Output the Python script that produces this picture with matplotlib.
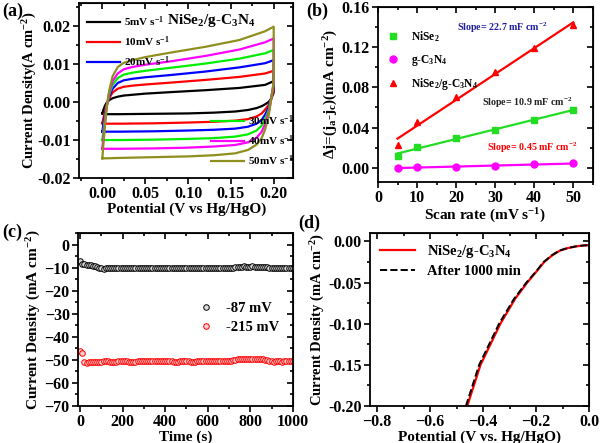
import matplotlib.pyplot as plt
import numpy as np
from matplotlib.ticker import AutoMinorLocator

plt.rcParams['font.family'] = 'Liberation Serif'
plt.rcParams['font.weight'] = 'bold'
plt.rcParams['axes.labelweight'] = 'bold'
plt.rcParams['mathtext.fontset'] = 'custom'
plt.rcParams['mathtext.rm'] = 'Liberation Serif:bold'
plt.rcParams['mathtext.it'] = 'Liberation Serif:bold'
plt.rcParams['mathtext.bf'] = 'Liberation Serif:bold'
plt.rcParams['mathtext.default'] = 'regular'

# ---- (a) CV curves ----
rates = ['5mV s$^{-1}$', '10mV s$^{-1}$', '20mV s$^{-1}$', '30mV s$^{-1}$', '40mV s$^{-1}$', '50mV s$^{-1}$']
cv_colors = ['black', 'red', 'blue', '#00ee00', '#ff00ff', '#8f8f1f']
v_up = [0.0, 0.001, 0.003, 0.005, 0.008, 0.012, 0.018, 0.025, 0.035, 0.05, 0.08, 0.12, 0.16, 0.19, 0.2]
v_down = [0.2, 0.2, 0.197, 0.194, 0.19, 0.186, 0.18, 0.17, 0.155, 0.13, 0.10, 0.06, 0.02, 0.005, 0.0]
j_up = [
    [-0.0030, -0.0022, -0.0010, -0.0002, 0.0005, 0.0010, 0.0014, 0.0017, 0.0019, 0.0022, 0.0026, 0.0031, 0.0037, 0.0045, 0.0055],
    [-0.0056, -0.0045, -0.0025, -0.0008, 0.0010, 0.0025, 0.0035, 0.0040, 0.0043, 0.0046, 0.0051, 0.0058, 0.0066, 0.0075, 0.0082],
    [-0.0078, -0.0062, -0.0035, -0.0010, 0.0015, 0.0035, 0.0050, 0.0057, 0.0061, 0.0065, 0.0071, 0.0080, 0.0091, 0.0102, 0.0110],
    [-0.0100, -0.0080, -0.0045, -0.0012, 0.0020, 0.0045, 0.0063, 0.0072, 0.0077, 0.0082, 0.0090, 0.0101, 0.0114, 0.0128, 0.0137],
    [-0.0123, -0.0098, -0.0055, -0.0014, 0.0025, 0.0055, 0.0075, 0.0086, 0.0092, 0.0098, 0.0107, 0.0121, 0.0138, 0.0157, 0.0167],
    [-0.0148, -0.0118, -0.0065, -0.0016, 0.0030, 0.0068, 0.0092, 0.0103, 0.0110, 0.0118, 0.0130, 0.0145, 0.0163, 0.0186, 0.0198],
]
j_down = [
    [0.0055, 0.0025, 0.0008, 0.0000, -0.0006, -0.0011, -0.0016, -0.0021, -0.0025, -0.0028, -0.0030, -0.0031, -0.0032, -0.0032, -0.0030],
    [0.0082, 0.0030, 0.0008, -0.0008, -0.0020, -0.0030, -0.0038, -0.0045, -0.0049, -0.0052, -0.0054, -0.0056, -0.0057, -0.0057, -0.0056],
    [0.0110, 0.0040, 0.0010, -0.0015, -0.0033, -0.0047, -0.0057, -0.0065, -0.0070, -0.0073, -0.0075, -0.0077, -0.0078, -0.0078, -0.0078],
    [0.0137, 0.0045, 0.0010, -0.0022, -0.0045, -0.0062, -0.0075, -0.0085, -0.0091, -0.0095, -0.0097, -0.0099, -0.0100, -0.0100, -0.0100],
    [0.0167, 0.0050, 0.0008, -0.0030, -0.0058, -0.0078, -0.0094, -0.0106, -0.0113, -0.0117, -0.0120, -0.0122, -0.0123, -0.0123, -0.0123],
    [0.0198, 0.0055, 0.0005, -0.0038, -0.0072, -0.0095, -0.0112, -0.0126, -0.0135, -0.0140, -0.0143, -0.0145, -0.0147, -0.0148, -0.0148],
]

# ---- (b) double layer capacitance ----
scan = [5, 10, 20, 30, 40, 50]
dj_nise2 = [0.012, 0.021, 0.030, 0.038, 0.048, 0.057]
dj_gcn = [0.000, 0.0005, 0.0012, 0.0022, 0.0035, 0.0045]
dj_comp = [0.023, 0.046, 0.070, 0.095, 0.119, 0.142]

# ---- (c) chronoamperometry (10 s steps) ----
t = list(range(0, 1001, 10))
i_87 = [-7.0, -8.2, -8.5, -8.6, -8.8, -9.0, -9.2, -9.4, -9.7, -10.0,
        -10.3, -10.6, -10.2, -10.0, -10.0, -10.1, -10.0, -10.0, -10.0, -10.1,
        -10.0, -10.0, -10.0, -10.0, -10.1, -10.0, -10.0, -10.0, -10.0, -10.0,
        -10.1, -10.0, -10.0, -10.0, -10.0, -10.0, -10.1, -10.0, -10.0, -10.0,
        -10.0, -10.0, -10.0, -10.1, -10.0, -10.0, -10.0, -10.0, -10.0, -10.1,
        -10.0, -10.0, -10.0, -10.0, -10.0, -10.0, -10.1, -10.0, -10.0, -10.0,
        -10.0, -10.0, -10.0, -10.0, -10.1, -10.0, -10.0, -10.0, -10.0, -10.0,
        -10.0, -10.0, -10.0, -9.6, -9.5, -9.5, -9.5, -9.4, -9.5, -9.5,
        -9.5, -9.4, -9.5, -9.5, -9.5, -9.6, -9.6, -9.7, -9.8, -9.9,
        -10.0, -10.0, -10.0, -10.1, -10.1, -10.1, -10.2, -10.2, -10.2, -10.2,
        -10.3]
i_215 = [-46.0, -47.0, -51.0, -51.2, -51.0, -50.9, -50.9, -50.8, -50.8, -50.7,
         -50.7, -50.6, -50.6, -50.5, -50.7, -50.9, -51.0, -50.7, -50.5, -50.4,
         -50.4, -50.5, -50.6, -50.8, -51.0, -51.1, -50.7, -50.5, -50.4, -50.3,
         -50.3, -50.4, -50.4, -50.5, -50.4, -50.3, -50.3, -50.4, -50.5, -50.6,
         -50.4, -50.3, -50.4, -50.6, -50.8, -51.0, -50.8, -50.5, -50.4, -50.3,
         -50.4, -50.5, -50.7, -51.0, -50.8, -50.5, -50.4, -50.3, -50.4, -50.3,
         -50.3, -50.4, -50.5, -50.4, -50.6, -50.4, -50.3, -50.4, -50.4, -50.3,
         -50.3, -50.4, -50.2, -49.9, -49.8, -49.7, -49.7, -49.8, -49.7, -49.6,
         -49.7, -49.7, -49.8, -49.7, -49.6, -49.7, -49.8, -50.0, -50.2, -50.4,
         -50.6, -50.7, -50.6, -50.5, -50.6, -50.7, -50.5, -50.4, -50.6, -50.5,
         -50.5]

# ---- (d) LSV ----
v_lsv = [-0.46, -0.41, -0.335, -0.28, -0.234, -0.20, -0.17, -0.14, -0.11, -0.08, -0.05, -0.02, 0.0]
j_lsv = [-0.20, -0.15, -0.10, -0.07, -0.05, -0.037, -0.025, -0.017, -0.011, -0.008, -0.006, -0.0048, -0.0045]
v_after = [-0.465, -0.415, -0.34, -0.284, -0.237, -0.202, -0.172, -0.142, -0.112, -0.081, -0.051, -0.02, 0.0]
j_after = [-0.20, -0.15, -0.10, -0.07, -0.05, -0.037, -0.025, -0.017, -0.011, -0.008, -0.006, -0.0048, -0.0045]


def style(ax):
    ax.xaxis.set_minor_locator(AutoMinorLocator(2))
    ax.yaxis.set_minor_locator(AutoMinorLocator(2))
    ax.tick_params(which='both', direction='out', labelsize=11.5, width=1.2, pad=2)
    ax.tick_params(which='major', length=4)
    ax.tick_params(which='minor', length=2)
    for s in ax.spines.values():
        s.set_linewidth(1.3)
    # mirrored inward ticks on top and right
    sec_x = ax.secondary_xaxis('top')
    sec_x.set_xticks(ax.get_xticks())
    sec_x.xaxis.set_minor_locator(AutoMinorLocator(2))
    sec_x.tick_params(which='both', direction='in', labeltop=False, width=1.2)
    sec_x.tick_params(which='major', length=4)
    sec_x.tick_params(which='minor', length=2)
    sec_y = ax.secondary_yaxis('right')
    sec_y.set_yticks(ax.get_yticks())
    sec_y.yaxis.set_minor_locator(AutoMinorLocator(2))
    sec_y.tick_params(which='both', direction='in', labelright=False, width=1.2)
    sec_y.tick_params(which='major', length=4)
    sec_y.tick_params(which='minor', length=2)


fig = plt.figure(figsize=(6, 4.43), dpi=100)

# (a)
ax1 = fig.add_axes([0.132, 0.598, 0.357, 0.395])
lines = []
for k in range(6):
    ln, = ax1.plot(v_up + v_down, j_up[k] + j_down[k], color=cv_colors[k], lw=1.6)
    lines.append(ln)
ax1.set_xlim(-0.027, 0.223)
ax1.set_ylim(-0.02, 0.026)
ax1.set_xticks([0.0, 0.05, 0.10, 0.15, 0.20])
ax1.set_xticklabels(['0.00', '0.05', '0.10', '0.15', '0.20'])
ax1.set_yticks([-0.02, -0.01, 0.0, 0.01, 0.02])
ax1.set_yticklabels(['-0.02', '-0.01', '0.00', '0.01', '0.02'])
ax1.set_xlabel('Potential (V vs Hg/HgO)', fontsize=11, labelpad=0)
ax1.set_ylabel('Current Density(A cm$^{-2}$)', fontsize=10.5)
ax1.yaxis.set_label_coords(-0.19, 0.5)
leg1 = ax1.legend(lines[:3], rates[:3], loc='upper left', frameon=False, fontsize=8,
                  handlelength=3.0, borderaxespad=0.3, labelspacing=0.5, handletextpad=0.3,
                  bbox_to_anchor=(0.0, 0.98))
ax1.add_artist(leg1)
ax1.legend(lines[3:], rates[3:], loc='lower right', frameon=False, fontsize=8,
           handlelength=3.0, borderaxespad=0.0, labelspacing=0.5, handletextpad=0.3,
           bbox_to_anchor=(1.02, 0.03))
ax1.text(0.127, 0.0215, 'NiSe$_2$/g-C$_3$N$_4$', fontsize=11, ha='center', va='center')
style(ax1)

# (b)
ax2 = fig.add_axes([0.63, 0.589, 0.358, 0.396])
x = np.array(scan)
for y, c, m, lab in [(dj_nise2, '#22dd22', 's', 'NiSe$_2$'),
                     (dj_gcn, '#ff00ff', 'o', 'g-C$_3$N$_4$'),
                     (dj_comp, 'red', '^', 'NiSe$_2$/g-C$_3$N$_4$')]:
    p = np.polyfit(x, y, 1)
    ax2.plot(x, np.polyval(p, x), color=c, lw=1.6)
    ax2.plot(x, y, ls='none', marker=m, color=c, ms=5, label=lab)
ax2.set_xlim(0, 55)
ax2.set_ylim(-0.014, 0.16)
ax2.set_xticks([0, 10, 20, 30, 40, 50])
ax2.set_yticks([0.0, 0.04, 0.08, 0.12, 0.16])
ax2.set_yticklabels(['0.00', '0.04', '0.08', '0.12', '0.16'])
ax2.set_xlabel('Scan rate (mV s$^{-1}$)', fontsize=11, labelpad=0)
ax2.set_ylabel('Δj=(j$_a$-j$_c$)(mA cm$^{-2}$)', fontsize=11, labelpad=1)
ax2.legend(loc='upper left', frameon=False, fontsize=8.3, bbox_to_anchor=(-0.03, 0.93),
           handletextpad=0.5, labelspacing=0.75)
ax2.text(20.3, 0.139, 'Slope= 22.7 mF cm$^{-2}$', color='#1f1f9f', fontsize=7.2, va='center')
ax2.text(26.7, 0.0646, 'Slope= 10.9 mF cm$^{-2}$', color='#222222', fontsize=7.2, va='center')
ax2.text(28, 0.020, 'Slope= 0.45 mF cm$^{-2}$', color='red', fontsize=7.2, va='center')
style(ax2)

# (c)
ax3 = fig.add_axes([0.13, 0.0835, 0.358, 0.39])
ax3.plot(t, i_87, ls='none', marker='o', ms=4, mfc='#dddddd', mec='black', mew=0.7,
         label='-87 mV')
ax3.plot(t, i_215, ls='none', marker='o', ms=4, mfc='#ffcccc', mec='red', mew=0.7,
         label='-215 mV')
ax3.set_xlim(-10, 1000)
ax3.set_ylim(-70, 5)
ax3.set_xticks([0, 200, 400, 600, 800, 1000])
ax3.set_yticks([-70, -60, -50, -40, -30, -20, -10, 0])
ax3.set_xlabel('Time (s)', fontsize=11, labelpad=0)
ax3.set_ylabel('Current Density (mA cm$^{-2}$)', fontsize=11, labelpad=1)
ax3.legend(loc='center right', frameon=False, fontsize=10.5, bbox_to_anchor=(1.0, 0.51),
           handlelength=1.0, handletextpad=0.9, labelspacing=0.4)
style(ax3)

# (d)
ax4 = fig.add_axes([0.617, 0.0835, 0.365, 0.39])
ax4.plot(v_lsv, j_lsv, color='red', lw=1.6, label='NiSe$_2$/g-C$_3$N$_4$')
ax4.plot(v_after, j_after, color='black', lw=1.4, ls='--', label='After 1000 min')
ax4.set_xlim(-0.826, 0.0)
ax4.set_ylim(-0.20, 0.01)
ax4.set_xticks([-0.8, -0.6, -0.4, -0.2, 0.0])
ax4.set_yticks([-0.20, -0.15, -0.10, -0.05, 0.0])
ax4.set_yticklabels(['-0.20', '-0.15', '-0.10', '-0.05', '0.00'])
ax4.set_xlabel('Potential (V vs. Hg/HgO)', fontsize=11, labelpad=0)
ax4.set_ylabel('Current Density (mA cm$^{-2}$)', fontsize=10.5, labelpad=1)
ax4.legend(loc='upper left', frameon=False, fontsize=10.5, handlelength=2.4,
           borderaxespad=0.3, labelspacing=0.3)
style(ax4)

fig.text(0.003, 0.995, '(a)', fontsize=13, fontweight='bold', va='top')
fig.text(0.51, 0.995, '(b)', fontsize=13, fontweight='bold', va='top')
fig.text(0.003, 0.495, '(c)', fontsize=13, fontweight='bold', va='top')
fig.text(0.497, 0.515, '(d)', fontsize=13, fontweight='bold', va='top')

fig.savefig('out.png', dpi=100)
